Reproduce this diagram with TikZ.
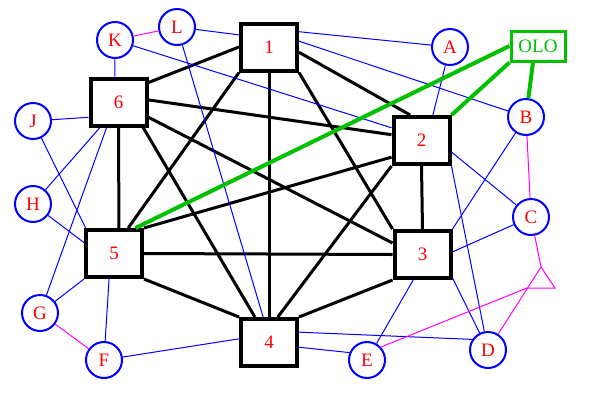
\documentclass[tikz,border=0pt]{standalone}
\usepackage{fontspec}
\setmainfont{Liberation Serif}
\definecolor{lnblue}{RGB}{0,0,255}
\definecolor{lbred}{RGB}{255,0,0}
\definecolor{olgreen}{RGB}{0,192,0}
\definecolor{hypmag}{RGB}{255,0,255}

\begin{document}
\begin{tikzpicture}[x=1pt, y=-1pt,
  hub/.style={rectangle, draw=black, line width=4pt, fill=white, minimum width=56pt, minimum height=47pt, inner sep=0pt, font=\fontsize{19}{22}\selectfont, text=lbred},
  leaf/.style={circle, draw=lnblue, line width=2pt, fill=white, minimum size=36pt, inner sep=0pt, font=\fontsize{19}{22}\selectfont, text=lbred},
  tag/.style={rectangle, draw=olgreen, line width=3pt, fill=white, minimum width=54pt, minimum height=30pt, inner sep=0pt, font=\fontsize{19}{22}\selectfont, text=olgreen},
  blk/.style={draw=black, line width=3pt},
  lnk/.style={draw=lnblue, line width=1pt},
  hyp/.style={draw=hypmag, line width=1pt},
  grn/.style={draw=olgreen, line width=4pt}
]
\useasboundingbox (0,0) rectangle (600,400);
% squares
\node[hub] (n1) at (269,47) {1};
\node[hub] (n6) at (118.5,102) {6};
\node[hub] (n2) at (421.5,140.5) {2};
\node[hub] (n3) at (422.5,254.5) {3};
\node[hub] (n5) at (114,253.5) {5};
\node[hub] (n4) at (269,342.5) {4};
% circles
\node[leaf] (a) at (450,47) {A};
\node[leaf] (b) at (526,117) {B};
\node[leaf] (c) at (531,217) {C};
\node[leaf] (d) at (488,350) {D};
\node[leaf] (e) at (367,360) {E};
\node[leaf] (f) at (104,360) {F};
\node[leaf] (g) at (40,313) {G};
\node[leaf] (h) at (33,204) {H};
\node[leaf] (j) at (33,121) {J};
\node[leaf] (k) at (115,40) {K};
\node[leaf] (l) at (177,27) {L};
\node[tag] (olo) at (538,46) {OLO};
\coordinate (t1) at (541,267);
\coordinate (t2) at (527,288);
\coordinate (t3) at (555,288);
% black edges
\draw[blk] (n1.west) -- (n6.33);
\draw[blk] (n1.350) -- (n2.114);
\draw[blk] (n1.south east) -- (n3.north west);
\draw[blk] (n1.south) -- (n4.north);
\draw[blk] (n1.south west) -- (n5.61);
\draw[blk] (n6.4) -- (n2.169);
\draw[blk] (n6.333) -- (n3.159);
\draw[blk] (n6.314) -- (n4.119);
\draw[blk] (n6.south) -- (n5.79);
\draw[blk] (n2.south) -- (n3.north);
\draw[blk] (n2.south west) -- (n4.71);
\draw[blk] (n2.209) -- (n5.north east);
\draw[blk] (n3.south west) -- (n4.north east);
\draw[blk] (n3.west) -- (n5.east);
\draw[blk] (n5.south east) -- (n4.north west);
% blue edges
\draw[lnk] (l) -- (n1.158);
\draw[lnk] (l) -- (n4.103);
\draw[lnk] (k) -- (n6.98);
\draw[lnk] (k) -- (n2.157);
\draw[lnk] (j) -- (n6.207);
\draw[lnk] (j) -- (n5.138);
\draw[lnk] (h) -- (n6.234);
\draw[lnk] (h) -- (n5.160);
\draw[lnk] (g) -- (n6.245);
\draw[lnk] (g) -- (n5.south west);
\draw[lnk] (f) -- (n5.259);
\draw[lnk] (f) -- (n4.173);
\draw[lnk] (e.157) -- (n4.351);
\draw[lnk] (e) -- (n3.250);
\draw[lnk] (d.146) -- (n4.19);
\draw[lnk] (d) -- (n3.322);
\draw[lnk] (d) -- (n2.south east);
\draw[lnk] (c) -- (n3.5);
\draw[lnk] (c) -- (n2.339);
\draw[lnk] (b) -- (n3.north east);
\draw[lnk] (b) -- (n1.11);
\draw[lnk] (a) -- (n1.27);
\draw[lnk] (a) -- (n2.66);
% magenta edges
\draw[hyp] (k) -- (l);
\draw[hyp] (b) -- (c);
\draw[hyp] (g) -- (f);
\draw[hyp] (c) -- (t1) -- (d);
\draw[hyp] (e.43) -- (t2) -- (t3) -- (t1);
% green edges
\draw[grn] (olo.west) -- (n5.50);
\draw[grn] (olo.south west) -- (n2.north east);
\draw[grn] (olo.253) -- (b);
\end{tikzpicture}
\end{document}
